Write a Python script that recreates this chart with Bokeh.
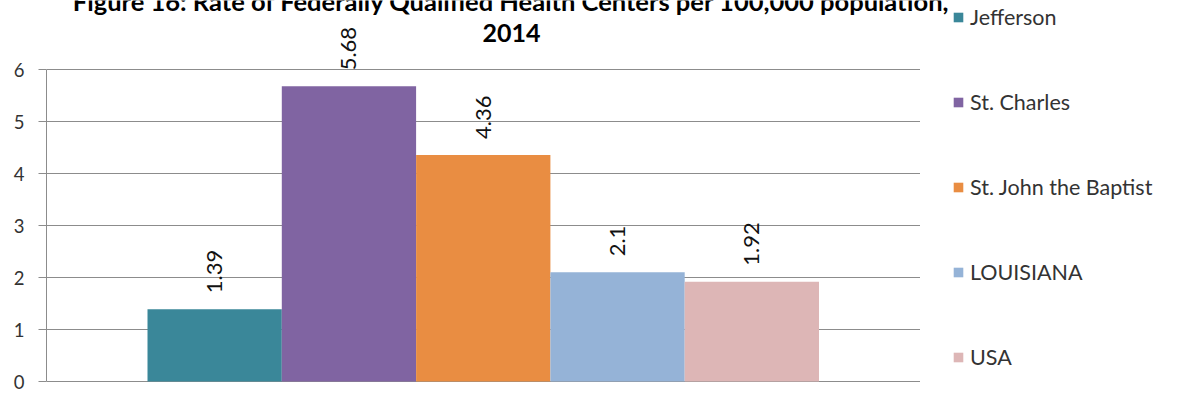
from bokeh.plotting import figure
from bokeh.models import (ColumnDataSource, Range1d, LabelSet, Label, Legend,
                          LegendItem, FixedTicker)
from bokeh.core.properties import value
from bokeh.embed import file_html
from bokeh.resources import INLINE

# ---- data ----
names = ["Jefferson", "St. Charles", "St. John the Baptist", "LOUISIANA", "USA"]
rates = [1.39, 5.68, 4.36, 2.1, 1.92]
rate_labels = ["1.39", "5.68", "4.36", "2.1", "1.92"]
colors = ["#3A8799", "#8064A2", "#E98D42", "#95B3D7", "#DDB6B6"]
y_ticks = [0, 1, 2, 3, 4, 5, 6]
title_line1 = "Figure 16: Rate of Federally Qualified Health Centers per 100,000 population,"
title_line2 = "2014"

# ---- layout (canvas pixels) ----
W, H = 1164, 394
FRAME_L = 46          # plot frame left edge (y axis)
FRAME_B = 383         # plot frame bottom (canvas y)
Y0_PX, Y6_PX = 381.0, 69.2       # where 0 and 6 fall
BAR0_L, BAR_W = 147.0, 134.3     # left edge of first bar, bar width
GRID_R = 920                      # where gridlines stop
LEG_GLYPH_X = 952                 # legend squares' left edge

ppu = (Y0_PX - Y6_PX) / 6.0
y_start = -(FRAME_B - Y0_PX) / ppu
y_end = 6 + Y6_PX / ppu
x_start = -0.5 - (BAR0_L - FRAME_L) / BAR_W
x_end = x_start + (W - FRAME_L) / BAR_W

src = ColumnDataSource(dict(
    x=list(range(len(names))), top=rates, name=names, color=colors, lab=rate_labels,
))

p = figure(width=W, height=H, output_backend="svg", toolbar_location=None,
           x_range=Range1d(x_start, x_end), y_range=Range1d(y_start, y_end),
           min_border_left=FRAME_L, min_border_right=0, min_border_top=0,
           min_border_bottom=H - FRAME_B)
p.outline_line_color = None
p.background_fill_color = "white"
p.border_fill_color = "white"

r = p.vbar(x="x", top="top", width=1.0, bottom=0, source=src,
           fill_color="color", line_color=None)

p.xaxis.visible = False
p.xgrid.visible = False
p.ygrid.ticker = FixedTicker(ticks=y_ticks)
p.ygrid.grid_line_color = "#8C8C8C"
p.ygrid.grid_line_width = 1

ax = p.yaxis[0]
ax.ticker = FixedTicker(ticks=y_ticks)
ax.bounds = (0, 6)
ax.axis_line_color = "#8C8C8C"
ax.major_tick_line_color = "#8C8C8C"
ax.major_tick_out = 8
ax.major_tick_in = 0
ax.minor_tick_line_color = None
ax.major_label_standoff = 14
ax.major_label_text_font = "Lato"
ax.major_label_text_font_size = "18.5px"
ax.major_label_text_color = "#333333"

labels = LabelSet(x="x", y="top", text="lab", source=src, angle=1.5708,
                  text_align="left", text_baseline="middle", y_offset=16,
                  text_font=value("Lato"), text_font_size=value("22px"),
                  text_color=value("#111111"))
p.add_layout(labels)

# ---- legend ----
ITEM_H, SPACING = 26, 59
PITCH = ITEM_H + SPACING
first_top = 4.3
common = dict(orientation="vertical", glyph_width=12, glyph_height=12,
              label_standoff=6, label_height=ITEM_H, spacing=SPACING, margin=0,
              border_line_alpha=0, label_text_font="Lato",
              label_text_font_size="21.5px", label_text_color="#333333")
items = [LegendItem(label=n, renderers=[r], index=i) for i, n in enumerate(names)]

# first entry: no box, so the title line above stays visible
leg1 = Legend(items=items[:1], padding=0, background_fill_alpha=0,
              location=(LEG_GLYPH_X - FRAME_L, FRAME_B - first_top - ITEM_H),
              **common)
# remaining entries: white box that starts where the gridlines stop
PAD = LEG_GLYPH_X - GRID_R
n2 = len(items) - 1
h2 = n2 * ITEM_H + (n2 - 1) * SPACING + 2 * PAD
top2 = first_top + PITCH - PAD
leg2 = Legend(items=items[1:], padding=PAD, background_fill_color="white",
              background_fill_alpha=1.0,
              location=(GRID_R - FRAME_L, FRAME_B - top2 - h2), **common)
p.add_layout(leg1)
p.add_layout(leg2)

# ---- title (first line cut at the top edge, as in the reference) ----
TITLE_CX = 511
p.add_layout(Label(x=TITLE_CX - FRAME_L, y=FRAME_B - 0.5, x_units="screen", y_units="screen",
                   text=title_line1, text_align="center", text_baseline="middle",
                   text_font="Lato", text_font_style="bold", text_font_size="25.5px",
                   text_color="#000000"))
p.add_layout(Label(x=TITLE_CX - FRAME_L, y=FRAME_B - 32, x_units="screen", y_units="screen",
                   text=title_line2, text_align="center", text_baseline="middle",
                   text_font="Lato", text_font_style="bold", text_font_size="25px",
                   text_color="#000000"))

open("out.html", "w").write(file_html(p, INLINE))
